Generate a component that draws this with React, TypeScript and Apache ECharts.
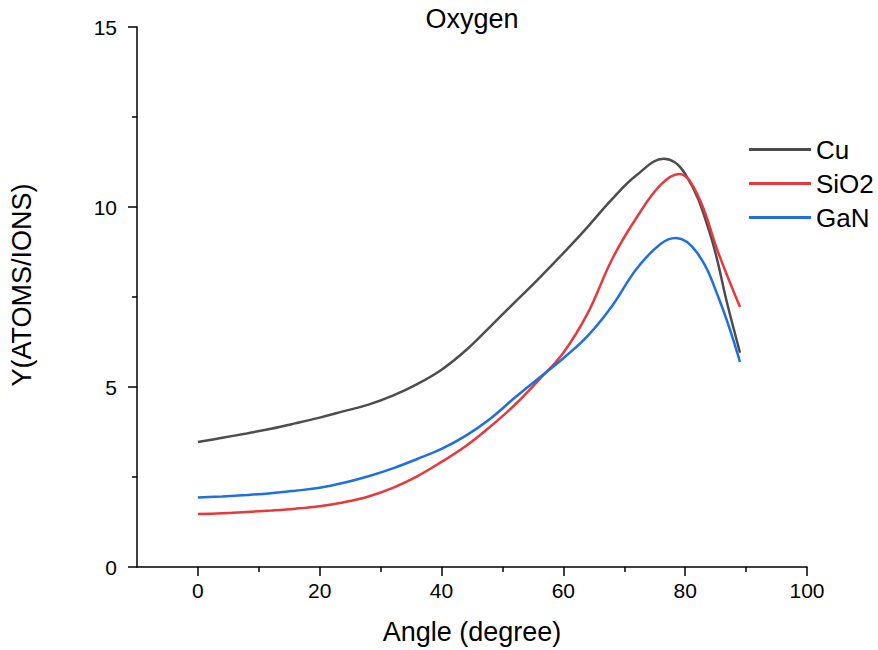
import React, { useEffect, useRef } from "react";
import * as echarts from "echarts";

const cuAngles = [0, 4, 8, 12, 16, 20, 24, 28, 32, 36, 40, 44, 48, 52, 56, 60, 64, 68, 72, 76.5, 80, 84, 87, 89];
const cu = [3.47, 3.59, 3.71, 3.84, 3.99, 4.15, 4.33, 4.51, 4.76, 5.08, 5.48, 6.02, 6.68, 7.35, 8.02, 8.72, 9.45, 10.22, 10.88, 11.34, 10.92, 9.3, 7.25, 5.95];
const sio2Angles = [0, 4, 8, 12, 16, 20, 24, 28, 32, 36, 40, 44, 48, 52, 56, 60, 64, 68, 72, 76, 79, 82, 85.5, 89];
const sio2 = [1.47, 1.49, 1.53, 1.57, 1.62, 1.69, 1.8, 1.96, 2.2, 2.52, 2.92, 3.36, 3.9, 4.5, 5.2, 5.95, 7.05, 8.55, 9.7, 10.62, 10.92, 10.35, 8.7, 7.22];
const ganAngles = [0, 4, 8, 12, 16, 20, 24, 28, 32, 36, 40, 44, 48, 52, 56, 60, 64, 68, 72, 76, 78.5, 82, 85.5, 89];
const gan = [1.93, 1.96, 2.0, 2.05, 2.12, 2.2, 2.34, 2.52, 2.74, 3.0, 3.28, 3.65, 4.12, 4.7, 5.25, 5.8, 6.42, 7.25, 8.28, 8.98, 9.14, 8.72, 7.47, 5.7];
const seriesNames = ["Cu", "SiO2", "GaN"];
const seriesColors = ["#4d4d4d", "#e8383d", "#1f6fe0"];
const xMajorTicks = [0, 20, 40, 60, 80, 100];
const xMinorTicks = [10, 30, 50, 70, 90];

const FONT = "'Liberation Sans', Arial, sans-serif";

export default function App() {
  const ref = useRef<HTMLDivElement>(null);
  useEffect(() => {
    document.body.style.margin = "0";
    const chart = echarts.init(ref.current!, null, { renderer: "svg" });
    const xs = [cuAngles, sio2Angles, ganAngles];
    const ys = [cu, sio2, gan];
    chart.setOption({
      animation: false,
      backgroundColor: "#ffffff",
      textStyle: { fontFamily: FONT, color: "#000" },
      grid: { left: 137, right: 71, top: 27, bottom: 83 },
      legend: {
        orient: "vertical",
        left: 744,
        top: 131,
        itemWidth: 62,
        itemHeight: 3,
        itemGap: 7,
        icon: "rect",
        textStyle: { fontFamily: FONT, fontSize: 26, color: "#000", lineHeight: 27 },
        data: seriesNames,
      },
      xAxis: [
        {
          type: "value",
          min: -10,
          max: 100,
          splitLine: { show: false },
          axisLine: { onZero: false, lineStyle: { color: "#000", width: 1.5 } },
          axisTick: { customValues: xMajorTicks, length: 9, lineStyle: { color: "#000", width: 1.5 } },
          axisLabel: { customValues: xMajorTicks, margin: 13, fontSize: 21, color: "#000", fontFamily: FONT },
          name: "Angle (degree)",
          nameLocation: "middle",
          nameGap: 51,
          nameTextStyle: { fontSize: 27, color: "#000", fontFamily: FONT },
        },
        {
          type: "value",
          min: -10,
          max: 100,
          position: "bottom",
          splitLine: { show: false },
          axisLine: { show: false, onZero: false },
          axisTick: { customValues: xMinorTicks, length: 5, lineStyle: { color: "#000", width: 1.5 } },
          axisLabel: { show: false },
        },
      ],
      yAxis: {
        type: "value",
        min: 0,
        max: 15,
        interval: 5,
        splitLine: { show: false },
        axisLine: { show: true, onZero: false, lineStyle: { color: "#000", width: 1.5 } },
        axisTick: { show: true, length: 9, lineStyle: { color: "#000", width: 1.5 } },
        minorTick: { show: true, splitNumber: 2, length: 5, lineStyle: { color: "#000", width: 1.5 } },
        axisLabel: { margin: 20, fontSize: 21, color: "#000", fontFamily: FONT },
      },
      graphic: [
        {
          type: "text",
          x: 472,
          y: 19,
          style: { text: "Oxygen", fontSize: 27, fontFamily: FONT, fill: "#000", align: "center", verticalAlign: "middle" },
        },
        {
          type: "text",
          x: 22,
          y: 285,
          rotation: Math.PI / 2,
          style: { text: "Y(ATOMS/IONS)", fontSize: 27, fontFamily: FONT, fill: "#000", align: "center", verticalAlign: "middle" },
        },
      ],
      series: seriesNames.map((name, i) => ({
        name,
        type: "line",
        xAxisIndex: 0,
        smooth: 0.4,
        showSymbol: false,
        symbol: "none",
        color: seriesColors[i],
        lineStyle: { width: 2.5, color: seriesColors[i] },
        data: xs[i].map((a, j) => [a, ys[i][j]]),
      })),
    });
    return () => chart.dispose();
  }, []);
  return <div ref={ref} style={{ width: 878, height: 650 }} />;
}
